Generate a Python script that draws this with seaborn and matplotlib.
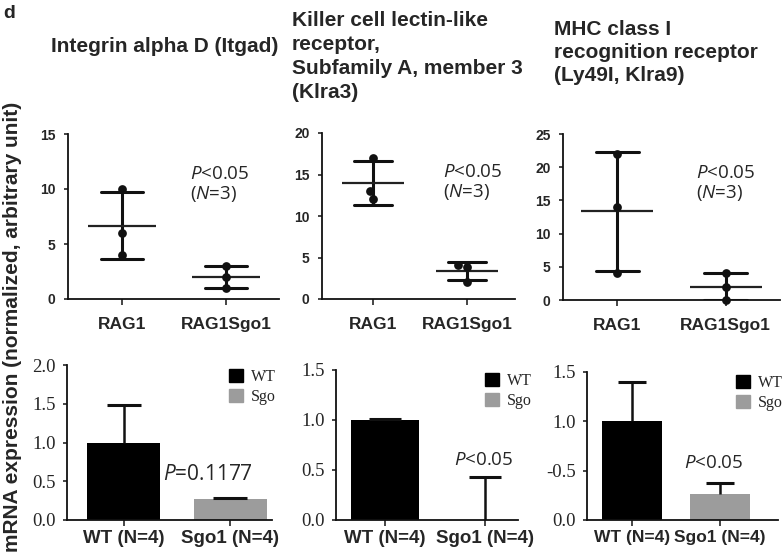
import matplotlib
matplotlib.use("Agg")
import matplotlib.pyplot as plt
from matplotlib.patches import Patch
import numpy as np
import pandas as pd
import seaborn as sns

# ---- values ----
top_groups = ["RAG1", "RAG1Sgo1"]
itgad_rag1 = [10.0, 6.0, 4.0]
itgad_sgo1 = [3.0, 2.0, 1.0]
klra3_rag1 = [17.0, 13.0, 12.0]
klra3_sgo1 = [4.1, 3.8, 2.1]
klra9_rag1 = [22.0, 14.0, 4.0]
klra9_sgo1 = [4.0, 2.0, 0.0]

bottom_groups = ["WT (N=4)", "Sgo1 (N=4)"]
legend_labels = ["WT", "Sgo"]
itgad_mean = [1.0, 0.27]
itgad_sd = [0.49, 0.015]
klra3_mean = [1.0, 0.0]
klra3_sd = [0.01, 0.43]
klra9_mean = [1.0, 0.26]
klra9_sd = [0.40, 0.115]

titles = ["Integrin alpha D (Itgad)",
          "Killer cell lectin-like\nreceptor,\nSubfamily A, member 3\n(Klra3)",
          "MHC class I\nrecognition receptor\n(Ly49I, Klra9)"]

W, H = 783, 557
BLACK = "#000000"
GRAY = "#9c9c9c"

sns.set_theme(style="ticks")
plt.rcParams['font.family'] = ['Liberation Sans', 'DejaVu Sans']
plt.rcParams['mathtext.fontset'] = 'custom'
plt.rcParams['mathtext.it'] = 'Open Sans:italic'
plt.rcParams['mathtext.rm'] = 'Open Sans'
plt.rcParams['axes.linewidth'] = 1.3
plt.rcParams['axes.edgecolor'] = '#111111'

fig = plt.figure(figsize=(W / 100, H / 100), dpi=100)


def box(x0, y0, x1, y1):
    # pixel box (top-left origin) -> axes
    return fig.add_axes([x0 / W, 1 - y1 / H, (x1 - x0) / W, (y1 - y0) / H])


def ftext(x, y, s, **kw):
    fig.text(x / W, 1 - y / H, s, **kw)


def dot_panel(ax, rag1, sgo1, ymax, xlim):
    df = pd.DataFrame({"group": [top_groups[0]] * len(rag1) + [top_groups[1]] * len(sgo1),
                       "value": rag1 + sgo1})
    sns.pointplot(data=df, x="group", y="value", order=top_groups, errorbar="sd",
                  capsize=0.4, color="#111111", marker="", linestyle="none",
                  err_kws={"linewidth": 2.2}, ax=ax)
    means = df.groupby("group", sort=False)["value"].mean().values
    pos = np.arange(len(top_groups))
    ax.hlines(means, pos - 0.33, pos + 0.33, color="#222222", lw=1.6, zorder=3)
    sns.swarmplot(data=df, x="group", y="value", order=top_groups, color="#111111",
                  size=6.3, ax=ax, zorder=4, clip_on=False)
    ax.set_xlim(*xlim)
    ax.set_ylim(0, ymax)
    ax.set_yticks(np.arange(0, ymax + 1, 5))
    ax.set_xlabel("")
    ax.set_ylabel("")
    ax.tick_params(axis="y", length=3, width=1.2, pad=6, labelsize=10)
    ax.tick_params(axis="x", length=4, width=1.2, pad=9, labelsize=12.5)
    for lab in ax.get_xticklabels() + ax.get_yticklabels():
        lab.set_fontweight("bold")
    sns.despine(ax=ax)


def bar_panel(ax, means, sds, ymax, xlim, yticklabels, xlabelsize):
    df = pd.DataFrame({"group": bottom_groups, "value": means})
    sns.barplot(data=df, x="group", y="value", hue="group", palette=[BLACK, GRAY],
                width=0.68, saturation=1, errorbar=None, legend=False, linewidth=0, ax=ax)
    pos = np.arange(len(means))
    top = np.array(means) + np.array(sds)
    ax.vlines(pos, means, top, color="#111111", lw=1.8, zorder=3)
    ax.hlines(top, pos - 0.16, pos + 0.16, color="#111111", lw=2.2, zorder=3)
    ax.set_xlim(*xlim)
    ax.set_ylim(0, ymax)
    ticks = np.arange(0, ymax + 0.01, 0.5)
    ax.set_yticks(ticks)
    ax.set_yticklabels(yticklabels, family="Liberation Serif", fontsize=13.5)
    ax.set_xlabel("")
    ax.set_ylabel("")
    ax.tick_params(axis="y", length=3, width=1.2, pad=5)
    ax.tick_params(axis="x", length=4, width=1.2, pad=3, labelsize=xlabelsize)
    for lab in ax.get_xticklabels():
        lab.set_fontweight("bold")
    sns.despine(ax=ax)


def bar_legend(ax, x, y):
    handles = [Patch(facecolor=BLACK, edgecolor=BLACK), Patch(facecolor=GRAY, edgecolor=GRAY)]
    ax.legend(handles, legend_labels, loc="upper left", bbox_to_anchor=(x / W, 1 - y / H),
              bbox_transform=fig.transFigure, frameon=False,
              prop={"family": "Liberation Serif", "size": 11.5},
              handlelength=0.9, handleheight=0.9, handletextpad=0.5, labelspacing=0.25,
              borderpad=0, borderaxespad=0)


# ---- top row: individual points, mean and SD ----
ax1 = box(68, 134, 279, 299)
dot_panel(ax1, itgad_rag1, itgad_sgo1, 15, (-0.52, 1.51))
ax2 = box(322, 133, 515, 299)
dot_panel(ax2, klra3_rag1, klra3_sgo1, 20, (-0.54, 1.51))
ax3 = box(563, 134, 780, 300)
dot_panel(ax3, klra9_rag1, klra9_sgo1, 25, (-0.5, 1.5))

# ---- bottom row: bar charts ----
ax4 = box(67, 365, 272, 520)
bar_panel(ax4, itgad_mean, itgad_sd, 2.0, (-0.53, 1.39), ["0.0", "0.5", "1.0", "1.5", "2.0"], 13.5)
ax5 = box(336, 370, 518, 520)
bar_panel(ax5, klra3_mean, klra3_sd, 1.5, (-0.49, 1.33), ["0.0", "0.5", "1.0", "1.5"], 13.5)
ax6 = box(587, 372, 778, 520)
bar_panel(ax6, klra9_mean, klra9_sd, 1.5, (-0.51, 1.66), ["0.0", "-0.5", "1.0", "1.5"], 12.5)

bar_legend(ax4, 229, 369)
bar_legend(ax5, 485, 373)
bar_legend(ax6, 736, 375)

# ---- titles and annotations ----
ftext(3, 14, "d", fontsize=14, fontweight="bold", va="center")
ftext(51, 47, titles[0], fontsize=15, fontweight="bold", va="center")
ftext(292, 11, titles[1], fontsize=15, fontweight="bold", va="top", linespacing=1.33)
ftext(554, 20, titles[2], fontsize=15, fontweight="bold", va="top", linespacing=1.27)

for x, y in [(190, 174), (443, 172), (696, 173)]:
    ftext(x, y, "$P$<0.05", family="Open Sans", fontsize=13.5, va="center")
    ftext(x, y + 20, "($N$=3)", family="Open Sans", fontsize=13.5, va="center")

ftext(163, 475, "$P$=0.1177", family="Open Sans", fontsize=15, va="center")
ftext(454, 460, "$P$<0.05", family="Open Sans", fontsize=13.5, va="center")
ftext(684, 463, "$P$<0.05", family="Open Sans", fontsize=13.5, va="center")

ftext(13, 327, "mRNA expression (normalized, arbitrary unit)", fontsize=15,
      fontweight="bold", rotation=90, ha="center", va="center")

fig.savefig("out.png", dpi=100)
